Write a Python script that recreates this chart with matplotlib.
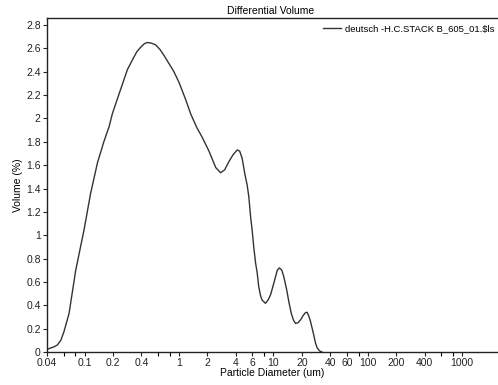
import matplotlib
matplotlib.use("Agg")
import matplotlib.pyplot as plt
from matplotlib.ticker import FixedLocator, NullFormatter, FixedFormatter

plt.rcParams['font.family'] = ['Liberation Sans Narrow', 'Liberation Sans', 'DejaVu Sans']

diameter = [0.041, 0.0476, 0.0515, 0.056, 0.0605, 0.0685, 0.0806, 0.0987, 0.116, 0.137,
            0.160, 0.182, 0.197, 0.232, 0.251, 0.285, 0.321, 0.357, 0.393, 0.43,
            0.462, 0.51, 0.566, 0.63, 0.694, 0.784, 0.885, 1.0, 1.18, 1.33,
            1.55, 1.76, 2.08, 2.45, 2.76, 3.05, 3.38, 3.75, 4.14, 4.4,
            4.67, 5.0, 5.28, 5.5, 5.74, 5.96, 6.2, 6.49, 6.74, 7.0,
            7.33, 7.6, 8.25, 8.8, 9.35, 10.2, 11.0, 11.6, 12.3, 12.9,
            13.8, 14.6, 15.5, 16.4, 17.2, 18.2, 19.4, 20.6, 21.9, 22.8,
            23.7, 24.8, 26.0, 26.8, 28.0, 29.2, 30.3, 31.5, 32.8]
volume = [0.026, 0.045, 0.06, 0.10, 0.174, 0.33, 0.70, 1.045, 1.36, 1.62,
          1.80, 1.93, 2.04, 2.21, 2.29, 2.42, 2.50, 2.57, 2.61, 2.64,
          2.65, 2.645, 2.63, 2.59, 2.54, 2.47, 2.40, 2.31, 2.16, 2.04,
          1.92, 1.84, 1.72, 1.58, 1.535, 1.56, 1.63, 1.69, 1.73, 1.72,
          1.66, 1.52, 1.43, 1.33, 1.16, 1.045, 0.90, 0.76, 0.68, 0.56,
          0.48, 0.445, 0.417, 0.445, 0.49, 0.60, 0.70, 0.72, 0.70, 0.645,
          0.54, 0.43, 0.33, 0.27, 0.245, 0.25, 0.274, 0.31, 0.337, 0.34,
          0.31, 0.26, 0.19, 0.146, 0.074, 0.035, 0.017, 0.005, 0.0]

major_ticks = [0.04, 0.1, 0.2, 0.4, 1, 2, 4, 6, 10, 20, 40, 60, 100, 200, 400, 1000]
major_labels = ['0.04', '0.1', '0.2', '0.4', '1', '2', '4', '6', '10', '20', '40', '60',
                '100', '200', '400', '1000']
minor_ticks = [0.06, 0.08, 0.6, 0.8, 8, 80, 600, 800]
y_ticks = [0, 0.2, 0.4, 0.6, 0.8, 1, 1.2, 1.4, 1.6, 1.8, 2, 2.2, 2.4, 2.6, 2.8]
y_labels = ['0', '0.2', '0.4', '0.6', '0.8', '1', '1.2', '1.4', '1.6', '1.8', '2',
            '2.2', '2.4', '2.6', '2.8']

fig = plt.figure(figsize=(4.98, 3.85), dpi=100)
ax = fig.add_axes([47/498, 1-352/385, 1-47/498, (352-18)/385])

ax.plot(diameter, volume, color='#333333', lw=1.0,
        label='deutsch -H.C.STACK B_605_01.$ls')
ax.set_xscale('log')
ax.set_xlim(0.04, 2400)
ax.set_ylim(0, 2.86)

ax.xaxis.set_major_locator(FixedLocator(major_ticks))
ax.xaxis.set_major_formatter(FixedFormatter(major_labels))
ax.xaxis.set_minor_locator(FixedLocator(minor_ticks))
ax.xaxis.set_minor_formatter(NullFormatter())
ax.set_yticks(y_ticks)
ax.set_yticklabels(y_labels)

ax.tick_params(axis='both', which='major', direction='out', length=3, width=0.8,
               labelsize=7.5, pad=1.5, colors='#222222')
ax.tick_params(axis='x', which='minor', direction='out', length=3, width=0.8)

for s in ['left', 'bottom', 'top']:
    ax.spines[s].set_linewidth(1.0)
    ax.spines[s].set_color('#222222')
ax.spines['right'].set_visible(False)

ax.set_xlabel('Particle Diameter (um)', fontsize=7.5, labelpad=0)
ax.set_ylabel('Volume (%)', fontsize=7.5, labelpad=2)
ax.set_title('Differential Volume', fontsize=7.5, pad=3, x=0.495)

leg = ax.legend(loc='upper right', frameon=False, fontsize=6.8, handlelength=1.9,
                handletextpad=0.5, borderaxespad=0.3, bbox_to_anchor=(1.008, 1.0))

fig.savefig('out.png', dpi=100)
